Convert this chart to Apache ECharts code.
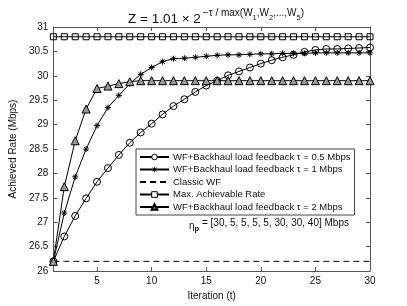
<!DOCTYPE html>
<html><head><meta charset="utf-8">
<script src="https://cdn.jsdelivr.net/npm/echarts@6/dist/echarts.min.js"></script>
<style>html,body{margin:0;padding:0;background:#fff}#c{width:407px;height:306px}</style>
</head><body><div id="c"></div>
<script>
var iterations = [1,2,3,4,5,6,7,8,9,10,11,12,13,14,15,16,17,18,19,20,21,22,23,24,25,26,27,28,29,30];
var tau05 = [26.2,26.71,27.13,27.49,27.83,28.11,28.38,28.63,28.84,29.02,29.21,29.38,29.52,29.67,29.80,29.90,30.01,30.09,30.17,30.25,30.32,30.38,30.43,30.49,30.53,30.55,30.55,30.56,30.57,30.58];
var tau1 = [26.2,27.19,27.93,28.5,28.98,29.35,29.6,29.84,30.03,30.17,30.29,30.35,30.36,30.38,30.40,30.42,30.43,30.43,30.44,30.45,30.45,30.46,30.46,30.46,30.47,30.47,30.47,30.47,30.47,30.47];
var classicWF = [26.2,26.2,26.2,26.2,26.2,26.2,26.2,26.2,26.2,26.2,26.2,26.2,26.2,26.2,26.2,26.2,26.2,26.2,26.2,26.2,26.2,26.2,26.2,26.2,26.2,26.2,26.2,26.2,26.2,26.2];
var maxRate = [30.8,30.8,30.8,30.8,30.8,30.8,30.8,30.8,30.8,30.8,30.8,30.8,30.8,30.8,30.8,30.8,30.8,30.8,30.8,30.8,30.8,30.8,30.8,30.8,30.8,30.8,30.8,30.8,30.8,30.8];
var tau2 = [26.2,27.73,28.67,29.32,29.74,29.79,29.84,29.88,29.9,29.9,29.9,29.9,29.9,29.9,29.9,29.9,29.9,29.9,29.9,29.9,29.9,29.9,29.9,29.9,29.9,29.9,29.9,29.9,29.9,29.9];
var xTicks = [5,10,15,20,25,30];
var seriesNames = ['WF+Backhaul load feedback \u03c4 = 0.5 Mbps','WF+Backhaul load feedback \u03c4 = 1 Mbps','Classic WF','Max. Achievable Rate','WF+Backhaul load feedback \u03c4 = 2 Mbps'];

function pairs(v){ return iterations.map(function(x,i){return [x, v[i]];}); }
var FONT = '"Liberation Sans", Arial, sans-serif';
var starPath = 'path://M5,0L5,10M0,5L10,5M1.5,1.5L8.5,8.5M1.5,8.5L8.5,1.5';
var axisCol = '#555';

var chart = echarts.init(document.getElementById('c'), null, {renderer:'canvas'});
var xBase = {type:'value', min:1, max:30, splitLine:{show:false},
  axisLine:{lineStyle:{color:axisCol,width:1}},
  axisTick:{inside:true,length:4,customValues:xTicks,lineStyle:{color:axisCol}},
  axisLabel:{customValues:xTicks,color:'#111',fontSize:10,fontFamily:FONT,margin:5}};
var yBase = {type:'value', min:26, max:31, interval:0.5, splitLine:{show:false},
  axisLine:{show:true,lineStyle:{color:axisCol,width:1}},
  axisTick:{inside:true,length:4,lineStyle:{color:axisCol}},
  axisLabel:{color:'#111',fontSize:10,fontFamily:FONT,margin:5}};

function tok(size, va, pad){ return {fontSize:size,fontFamily:FONT,fontWeight:'normal',color:'#111',verticalAlign:va,lineHeight:18,padding:pad}; }

var option = {
  animation:false,
  backgroundColor:'#fff',
  textStyle:{fontFamily:FONT},
  grid:{left:53,right:37,top:27,bottom:33,containLabel:false},
  title:{
    left:211, top:3, textAlign:'center',
    text:'{b|Z = 1.01 \u00d7 2}{s0|\u2212\u03c4 / max(W}{u|1}{s|,W}{u|2}{s|,...,W}{u|5}{s|)}',
    textStyle:{fontWeight:'normal', rich:{
      b:tok(13.5,'bottom',[0,0,0,0]),
      s0:tok(10,'top',[0,0,0,2]),
      s:tok(10,'top',[0,0,0,0]),
      u:tok(7.5,'top',[6,0,0,0])
    }}
  },
  legend:{
    orient:'vertical', left:136, top:149,
    backgroundColor:'#fff', borderColor:'#444', borderWidth:1,
    padding:[3,4,3,3], itemGap:2.5, itemWidth:29, itemHeight:7,
    textStyle:{fontSize:9.5,fontFamily:FONT,color:'#111',padding:[0,0,0,-1],lineHeight:10},
    data:[
      {name:seriesNames[0], itemStyle:{color:'#fff',borderColor:'#000',borderWidth:1}},
      {name:seriesNames[1], itemStyle:{borderWidth:0.8}},
      {name:seriesNames[2], itemStyle:{opacity:0}},
      {name:seriesNames[3], itemStyle:{color:'#fff',borderColor:'#000',borderWidth:1}},
      {name:seriesNames[4]}
    ]
  },
  xAxis:[
    Object.assign({}, xBase, {position:'bottom', name:'Iteration (t)', nameLocation:'middle', nameGap:19,
      nameTextStyle:{fontSize:10,fontFamily:FONT,color:'#111'}}),
    Object.assign({}, xBase, {position:'top', axisLabel:{show:false,customValues:xTicks}})
  ],
  yAxis:[
    Object.assign({}, yBase, {position:'left', name:'Achieved Rate (Mbps)', nameLocation:'middle', nameGap:33,
      nameTextStyle:{fontSize:10,fontFamily:FONT,color:'#111'}}),
    Object.assign({}, yBase, {position:'right', axisLabel:{show:false}})
  ],
  graphic:[{
    type:'text', left:189, top:218,
    style:{text:'{e|\u03b7}{p|p}{t| = [30, 5, 5, 5, 5, 30, 30, 40] Mbps}',
      rich:{
        e:{fontSize:10,fontFamily:FONT,fill:'#111',verticalAlign:'top',lineHeight:16,padding:[3,0,0,0]},
        p:{fontSize:7.5,fontWeight:'bold',fontFamily:FONT,fill:'#111',verticalAlign:'top',lineHeight:16,padding:[7,0,0,0]},
        t:{fontSize:10,fontFamily:FONT,fill:'#111',verticalAlign:'top',lineHeight:16,padding:[0,0,0,0]}
      }}
  }],
  series:[
    {name:seriesNames[0], type:'line', data:pairs(tau05), symbol:'circle', symbolSize:7,
      lineStyle:{color:'#000',width:1}, itemStyle:{color:'rgba(255,255,255,0)',borderColor:'#000',borderWidth:1}, z:3},
    {name:seriesNames[1], type:'line', data:pairs(tau1), symbol:starPath, symbolSize:6,
      lineStyle:{color:'#000',width:1}, itemStyle:{color:'#000',borderColor:'#000',borderWidth:1}, z:3},
    {name:seriesNames[2], type:'line', data:pairs(classicWF), showSymbol:false, symbol:'none',
      lineStyle:{color:'#000',width:1,type:[6,4]}, itemStyle:{color:'#000'}},
    {name:seriesNames[3], type:'line', data:pairs(maxRate), symbol:'rect', symbolSize:6,
      lineStyle:{color:'#000',width:1}, itemStyle:{color:'rgba(255,255,255,0)',borderColor:'#000',borderWidth:1}},
    {name:seriesNames[4], type:'line', data:pairs(tau2), symbol:'triangle', symbolSize:8,
      lineStyle:{color:'#000',width:1}, itemStyle:{color:'#9a9a9a',borderColor:'#000',borderWidth:1}}
  ]
};
chart.setOption(option);
</script></body></html>
